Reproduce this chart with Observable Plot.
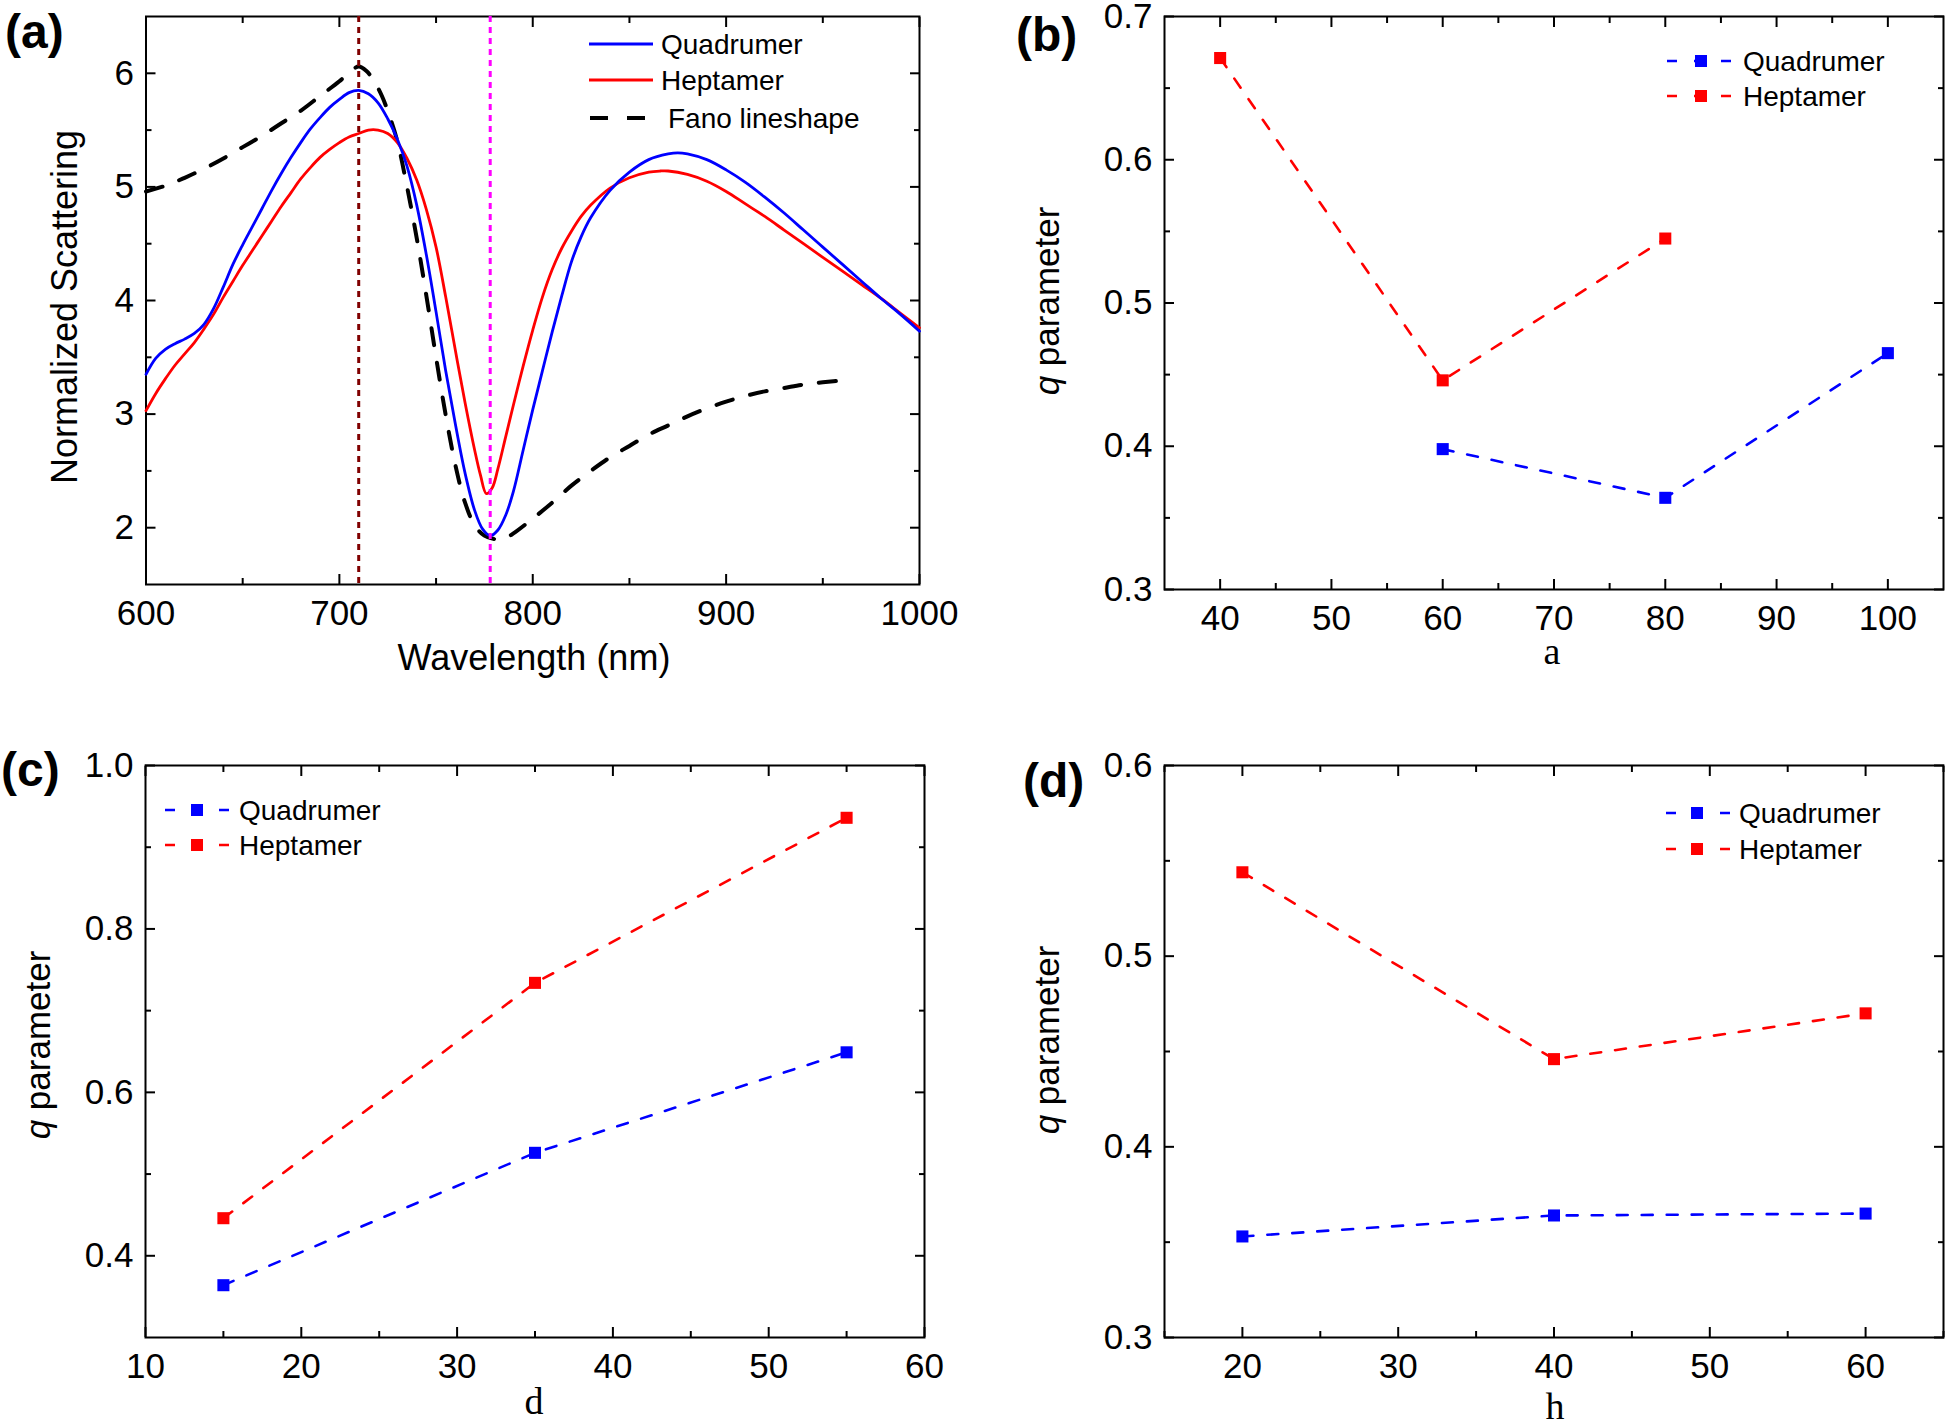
<!DOCTYPE html>
<html><head><meta charset="utf-8">
<script src="https://cdn.jsdelivr.net/npm/d3@7"></script>
<script src="https://cdn.jsdelivr.net/npm/@observablehq/plot@0.6"></script>
<style>
html,body{margin:0;padding:0;background:#fff;}
#wrap{position:relative;width:1946px;height:1426px;background:#fff;overflow:hidden;}
#wrap > svg{position:absolute;}
</style></head><body><div id="wrap"></div>
<script>
// ---------- Panel (a): normalized scattering spectra ----------
const quadWavelength = [600,605,610,615,620,625,630,635,640,645,650,655,660,665,670,675,680,685,690,695,700,705,710,715,720,725,730,735,740,745,750,755,760,765,770,774,778,782,786,790,795,800,805,810,815,820,825,830,840,850,860,870,875,880,890,900,910,920,930,940,950,960,970,980,990,1000];
const quadScattering = [3.35,3.49,3.57,3.62,3.66,3.71,3.79,3.93,4.12,4.32,4.49,4.65,4.81,4.97,5.12,5.26,5.39,5.51,5.61,5.70,5.77,5.83,5.85,5.82,5.74,5.60,5.42,5.18,4.84,4.40,3.90,3.38,2.91,2.48,2.15,1.99,1.93,1.98,2.11,2.32,2.68,3.04,3.38,3.72,4.04,4.34,4.56,4.73,4.97,5.13,5.24,5.29,5.30,5.29,5.24,5.15,5.04,4.91,4.77,4.62,4.47,4.32,4.17,4.02,3.88,3.73];
const heptWavelength = [600,605,610,615,620,625,630,635,640,645,650,655,660,665,670,675,680,685,690,695,700,705,710,715,720,725,730,735,740,745,750,755,760,765,770,773,776,779,782,786,790,795,800,805,810,815,820,825,830,840,850,860,866,870,880,890,900,910,920,930,940,950,960,970,980,990,1000];
const heptScattering = [3.03,3.18,3.31,3.43,3.53,3.63,3.75,3.88,4.03,4.17,4.31,4.44,4.57,4.70,4.83,4.95,5.07,5.17,5.26,5.33,5.39,5.44,5.47,5.50,5.50,5.47,5.39,5.25,5.06,4.80,4.47,4.03,3.56,3.10,2.68,2.46,2.30,2.35,2.52,2.80,3.08,3.42,3.74,4.03,4.27,4.46,4.61,4.74,4.84,4.99,5.08,5.13,5.14,5.14,5.11,5.05,4.96,4.85,4.74,4.62,4.50,4.38,4.26,4.14,4.02,3.89,3.76];
const fanoWavelength = [600,610,620,630,640,650,660,670,680,690,700,706,710,714,718,722,726,730,735,740,745,750,755,760,765,770,775,780,785,790,800,810,820,830,840,850,860,870,880,890,900,910,920,930,940,950,963];
const fanoScattering = [4.96,5.01,5.08,5.16,5.25,5.35,5.45,5.56,5.67,5.80,5.93,6.02,6.06,6.02,5.93,5.80,5.62,5.40,5.00,4.55,4.04,3.50,2.99,2.55,2.22,2.02,1.93,1.90,1.90,1.95,2.08,2.22,2.37,2.50,2.62,2.72,2.82,2.90,2.98,3.05,3.11,3.16,3.20,3.23,3.26,3.28,3.30];
const resonanceWavelengths = [710, 778];
const resonanceColors = ["#800000", "#ff00ff"];
const aXTicks = [600, 700, 800, 900, 1000];
const aXMinor = [650, 750, 850, 950];
const aYTicks = [2, 3, 4, 5, 6];
const aYMinor = [2.5, 3.5, 4.5, 5.5];

// ---------- Panel (b): q vs a ----------
const bQuadA = [60, 80, 100];
const bQuadQ = [0.398, 0.364, 0.465];
const bHeptA = [40, 60, 80];
const bHeptQ = [0.671, 0.446, 0.545];
const bXTicks = [40, 50, 60, 70, 80, 90, 100];
const bXMinor = [45, 55, 65, 75, 85, 95];
const bYTicks = [0.3, 0.4, 0.5, 0.6, 0.7];
const bYMinor = [0.35, 0.45, 0.55, 0.65];

// ---------- Panel (c): q vs d ----------
const cD = [15, 35, 55];
const cQuadQ = [0.364, 0.526, 0.649];
const cHeptQ = [0.446, 0.734, 0.936];
const cXTicks = [10, 20, 30, 40, 50, 60];
const cXMinor = [15, 25, 35, 45, 55];
const cYTicks = [0.4, 0.6, 0.8, 1.0];
const cYMinor = [0.5, 0.7, 0.9];

// ---------- Panel (d): q vs h ----------
const dH = [20, 40, 60];
const dQuadQ = [0.353, 0.364, 0.365];
const dHeptQ = [0.544, 0.446, 0.470];
const dXTicks = [20, 30, 40, 50, 60];
const dXMinor = [15, 25, 35, 45, 55, 65];
const dYTicks = [0.3, 0.4, 0.5, 0.6];
const dYMinor = [0.35, 0.45, 0.55];

const seriesNames = ["Quadrumer", "Heptamer"];
const seriesColors = ["#0000ff", "#ff0000"];

const SANS = "'Liberation Sans', Arial, Helvetica, sans-serif";
const SERIF = "'Liberation Serif', 'Times New Roman', serif";
const zip = (xs, ys) => xs.map((x, i) => ({x, y: ys[i]}));

function axes(xT, xM, yT, yM, yFmt) {
  const tickOnly = (anchor, ticks, size) => {
    const o = {anchor, tickSize: size, strokeWidth: 2, fill: "none", tickFormat: () => "", label: null};
    return (anchor === "top" || anchor === "bottom") ? Plot.axisX(ticks, o) : Plot.axisY(ticks, o);
  };
  return [
    Plot.axisX(xT, {anchor: "bottom", tickSize: 0, tickPadding: 16, fontSize: 35, tickFormat: d3.format("d"), label: null}),
    Plot.axisY(yT, {anchor: "left", tickSize: 0, tickPadding: 12, fontSize: 35, tickFormat: yFmt, label: null}),
    tickOnly("bottom", xT, -10), tickOnly("bottom", xM, -6),
    tickOnly("top", xT, -10), tickOnly("top", xM, -6),
    tickOnly("left", yT, -10), tickOnly("left", yM, -6),
    tickOnly("right", yT, -10), tickOnly("right", yM, -6),
    Plot.frame({stroke: "black", strokeWidth: 2})
  ];
}

function txt(svg, x, y, s, o = {}) {
  const t = d3.select(svg).append("text")
    .attr("x", x).attr("y", y)
    .attr("font-family", o.family || SANS)
    .attr("font-size", o.size || 36)
    .attr("font-weight", o.weight || "normal")
    .attr("text-anchor", o.anchor || "start")
    .attr("fill", "black");
  if (o.rotate) t.attr("transform", `rotate(${o.rotate},${x},${y})`);
  t.text(s);
  return t;
}
function qLabel(svg, x, y) {
  const t = d3.select(svg).append("text")
    .attr("x", x).attr("y", y)
    .attr("font-family", SANS).attr("font-size", 35)
    .attr("text-anchor", "middle").attr("fill", "black")
    .attr("transform", `rotate(-90,${x},${y})`);
  t.append("tspan").attr("font-style", "italic").text("q");
  t.append("tspan").text(" parameter");
}
function markerLegend(svg, x0, x1, xm, xt, ys) {
  const g = d3.select(svg).append("g");
  seriesNames.forEach((name, i) => {
    const y = ys[i];
    g.append("line").attr("x1", x0).attr("x2", x1).attr("y1", y).attr("y2", y)
      .attr("stroke", seriesColors[i]).attr("stroke-width", 2.6).attr("stroke-dasharray", "10,17");
    g.append("rect").attr("x", xm - 6).attr("y", y - 6).attr("width", 12).attr("height", 12).attr("fill", seriesColors[i]);
    txt(svg, xt, y + 10, name, {size: 28});
  });
}

function qPanel(cfg) {
  const quad = zip(cfg.xq, cfg.qq), hept = zip(cfg.xh, cfg.qh);
  return Plot.plot({
    width: 973, height: 713,
    marginLeft: cfg.ml, marginRight: cfg.mr, marginTop: cfg.mt, marginBottom: cfg.mb,
    x: {domain: cfg.xd}, y: {domain: cfg.yd},
    style: {fontFamily: SANS, fontSize: "35px", color: "black", background: "transparent", overflow: "visible"},
    marks: [
      ...axes(cfg.xT, cfg.xM, cfg.yT, cfg.yM, cfg.yFmt),
      Plot.line(hept, {x: "x", y: "y", stroke: seriesColors[1], strokeWidth: 2.6, strokeDasharray: "11,14"}),
      Plot.line(quad, {x: "x", y: "y", stroke: seriesColors[0], strokeWidth: 2.6, strokeDasharray: "11,14"}),
      Plot.dot(hept, {x: "x", y: "y", symbol: "square", fill: seriesColors[1], r: 6.8}),
      Plot.dot(quad, {x: "x", y: "y", symbol: "square", fill: seriesColors[0], r: 6.8})
    ]
  });
}

const wrap = document.getElementById("wrap");
function place(svg, left, top) {
  svg.style.left = left + "px"; svg.style.top = top + "px";
  wrap.appendChild(svg);
}

// ---- (a)
const quadData = zip(quadWavelength, quadScattering);
const heptData = zip(heptWavelength, heptScattering);
const fanoData = zip(fanoWavelength, fanoScattering);
const pa = Plot.plot({
  width: 973, height: 713,
  marginLeft: 145.5, marginRight: 54, marginTop: 16, marginBottom: 129,
  x: {domain: [600, 1000]}, y: {domain: [1.5, 6.5]},
  style: {fontFamily: SANS, fontSize: "35px", color: "black", background: "transparent", overflow: "visible"},
  marks: [
    ...axes(aXTicks, aXMinor, aYTicks, aYMinor, d3.format("d")),
    Plot.line(fanoData, {x: "x", y: "y", stroke: "black", strokeWidth: 4, strokeDasharray: "17,18", curve: "catmull-rom"}),
    Plot.line(heptData, {x: "x", y: "y", stroke: seriesColors[1], strokeWidth: 2.8, curve: "catmull-rom"}),
    Plot.line(quadData, {x: "x", y: "y", stroke: seriesColors[0], strokeWidth: 2.8, curve: "catmull-rom"}),
    Plot.ruleX([resonanceWavelengths[0]], {stroke: resonanceColors[0], strokeWidth: 3, strokeDasharray: "6,5"}),
    Plot.ruleX([resonanceWavelengths[1]], {stroke: resonanceColors[1], strokeWidth: 3, strokeDasharray: "6,5"})
  ]
});
place(pa, 0, 0);
txt(pa, 5, 48, "(a)", {size: 48, weight: "bold"});
txt(pa, 534, 670, "Wavelength (nm)", {anchor: "middle"});
txt(pa, 77, 307, "Normalized Scattering", {anchor: "middle", rotate: -90});
{
  const g = d3.select(pa).append("g");
  const ys = [44, 80, 118];
  seriesNames.forEach((name, i) => {
    g.append("line").attr("x1", 589).attr("x2", 653).attr("y1", ys[i]).attr("y2", ys[i])
      .attr("stroke", seriesColors[i]).attr("stroke-width", 2.8);
    txt(pa, 661, ys[i] + 10, name, {size: 28});
  });
  g.append("line").attr("x1", 590).attr("x2", 645).attr("y1", ys[2]).attr("y2", ys[2])
    .attr("stroke", "black").attr("stroke-width", 4).attr("stroke-dasharray", "18,19");
  txt(pa, 668, ys[2] + 10, "Fano lineshape", {size: 28});
}

// ---- (b)
const pb = qPanel({xq: bQuadA, qq: bQuadQ, xh: bHeptA, qh: bHeptQ, ml: 191, mr: 3, mt: 16, mb: 124,
  xd: [35, 105], yd: [0.3, 0.7], xT: bXTicks, xM: bXMinor, yT: bYTicks, yM: bYMinor, yFmt: d3.format(".1f")});
place(pb, 973, 0);
txt(pb, 43, 51, "(b)", {size: 48, weight: "bold"});
txt(pb, 579, 664, "a", {anchor: "middle", family: SERIF, size: 38});
qLabel(pb, 86, 301);
markerLegend(pb, 694, 759, 728, 770, [61, 96]);

// ---- (c)
const pc = qPanel({xq: cD, qq: cQuadQ, xh: cD, qh: cHeptQ, ml: 145, mr: 49, mt: 52, mb: 89,
  xd: [10, 60], yd: [0.3, 1.0], xT: cXTicks, xM: cXMinor, yT: cYTicks, yM: cYMinor, yFmt: d3.format(".1f")});
place(pc, 0, 713);
txt(pc, 1, 73, "(c)", {size: 48, weight: "bold"});
txt(pc, 534, 701, "d", {anchor: "middle", family: SERIF, size: 38});
qLabel(pc, 50, 332);
markerLegend(pc, 165, 230, 197, 239, [97, 132]);

// ---- (d)
const pd = qPanel({xq: dH, qq: dQuadQ, xh: dH, qh: dHeptQ, ml: 191, mr: 3, mt: 52, mb: 89,
  xd: [15, 65], yd: [0.3, 0.6], xT: dXTicks, xM: dXMinor, yT: dYTicks, yM: dYMinor, yFmt: d3.format(".1f")});
place(pd, 973, 713);
txt(pd, 50, 84, "(d)", {size: 48, weight: "bold"});
txt(pd, 582, 706, "h", {anchor: "middle", family: SERIF, size: 38});
qLabel(pd, 86, 327);
markerLegend(pd, 693, 757, 724, 766, [100, 136]);
</script>
</body></html>
